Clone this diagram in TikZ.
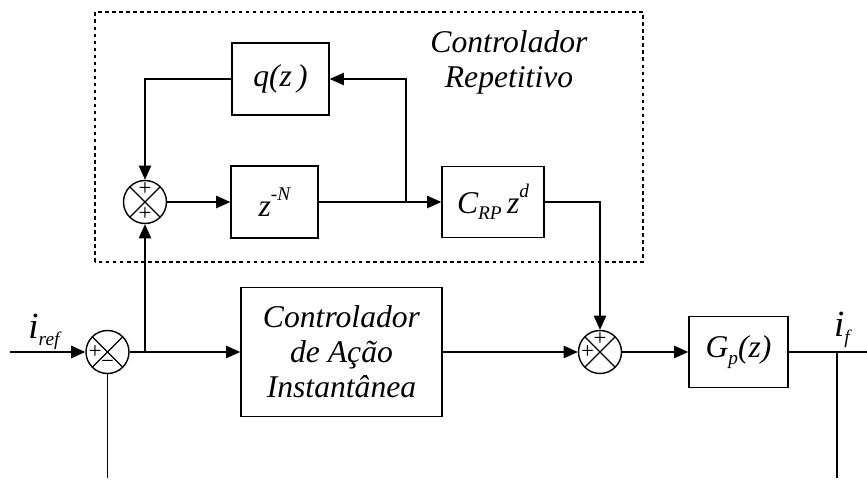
\documentclass[tikz,border=0pt]{standalone}
\usepackage{fontspec}
\setmainfont{Liberation Serif}
\usetikzlibrary{positioning,arrows.meta}

\newcommand{\lo}[1]{\raisebox{-0.45ex}{\fontsize{11}{11}\selectfont #1}}
\newcommand{\hi}[1]{\raisebox{1.1ex}{\fontsize{11}{11}\selectfont #1}}

\begin{document}
\begin{tikzpicture}[line width=0.7pt,
	>={Triangle[length=8pt,width=7pt]},
	blk/.style={draw,line width=0.8pt,inner sep=0pt,align=center,
		font=\fontsize{18}{20}\selectfont\itshape},
	sum/.style={draw,circle,line width=0.8pt,minimum size=0.86cm,inner sep=0pt,
		path picture={\draw[line width=0.7pt]
			(path picture bounding box.north west)--(path picture bounding box.south east)
			(path picture bounding box.north east)--(path picture bounding box.south west);}},
	sgn/.style={inner sep=0pt,font=\fontsize{13}{13}\selectfont},
	lbl/.style={inner sep=0pt,font=\fontsize{21}{22}\selectfont\itshape}]
		
		\useasboundingbox (0,0) rectangle (17.34,9.64);
		
		\draw[line width=0.8pt,dash pattern=on 2pt off 2pt] (1.9,4.4) rectangle (12.86,9.4);
		\node[inner sep=0pt,align=center,font=\fontsize{18}{20}\selectfont\itshape]
			(rp) at (10.18,8.4) {Controlador\\Repetitivo};
		
		\node[sum] (s0) at (2.15,2.6) {};
		\node[sum] (s1) at (2.9,5.6) {};
		\node[sum] (s2) at (12.0,2.6) {};
		
		\node[sgn] at ([yshift=0.25cm]s1.center) {+};
		\node[sgn] at ([yshift=-0.25cm]s1.center) {+};
		\node[sgn] at ([xshift=-0.25cm]s0.center) {+};
		\node[sgn] at ([yshift=-0.25cm]s0.center) {−};
		\node[sgn] at ([yshift=0.25cm]s2.center) {+};
		\node[sgn] at ([xshift=-0.25cm]s2.center) {+};
		
		\node[blk,minimum width=1.94cm,minimum height=1.44cm] (q) at (5.61,8.06) {q(z\,)};
		\node[blk,minimum width=1.74cm,minimum height=1.44cm] (zn) at (5.49,5.6) {z\hi{-N}};
		\node[blk,minimum width=2.04cm,minimum height=1.42cm] (crp) at (9.86,5.6) {C\lo{RP}\,z\hi{d}};
		\node[blk,minimum width=4.02cm,minimum height=2.58cm] (cai) at (6.83,2.6)
			{Controlador\\de Ação\\Instantânea};
		\node[blk,minimum width=1.98cm,minimum height=1.42cm] (gp) at (14.77,2.6) {G\lo{p}(z)};
		
		\coordinate (in) at (0.2,2.6);
		\coordinate (b0) at (2.9,2.6);
		\coordinate (b1) at (8.12,5.6);
		\coordinate (b2) at (16.74,2.6);
		\coordinate (out) at (17.34,2.6);
		\coordinate (f0) at (2.15,0.08);
		\coordinate (f2) at (16.74,0.08);
		
		\draw[->] (in) -- (s0.west);
		\draw (s0.east) -- (b0);
		\draw[->] (b0) -- (cai.west);
		\draw[->] (b0) -- (s1.south);
		\draw[->] (s1.east) -- (zn.west);
		\draw (zn.east) -- (b1);
		\draw[->] (b1) -- (crp.west);
		\draw[->] (b1) |- (q.east);
		\draw[->] (q.west) -| (s1.north);
		\draw[->] (crp.east) -| (s2.north);
		\draw[->] (cai.east) -- (s2.west);
		\draw[->] (s2.east) -- (gp.west);
		\draw (gp.east) -- (out);
		\draw (b2) -- (f2);
		\draw (s0.south) -- (f0);
		
		\node[lbl] at (0.88,3.0) {i\lo{ref}};
		\node[lbl] at (16.84,3.04) {i\lo{f}};
		
	\end{tikzpicture}
\end{document}
